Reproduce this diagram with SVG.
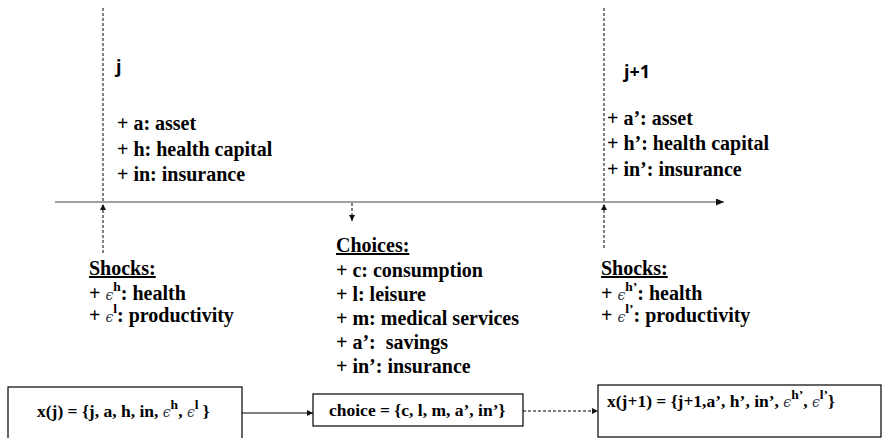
<svg xmlns="http://www.w3.org/2000/svg" width="887" height="438" viewBox="0 0 887 438">
<style>
  .t { font-family: "Liberation Serif", "DejaVu Serif", serif; font-weight: bold; font-size: 20px; fill: #000; }
  .bt { font-family: "Liberation Serif", "DejaVu Serif", serif; font-weight: bold; font-size: 17.5px; fill: #000; }
  .s { font-family: "Open Sans", "Liberation Sans", sans-serif; font-weight: bold; font-size: 18px; fill: #000; }
  .eps { font-family: "DejaVu Serif", serif; font-style: italic; font-weight: normal; font-size: 14px; fill: #34344a; }
  .sup { font-size: 13.5px; }
  .ul { text-decoration: underline; }
  .box { fill: #fff; stroke: #000; stroke-width: 1.2; }
  .dash { stroke: #000; stroke-width: 1; stroke-dasharray: 3 2; fill: none; }
  .solid { stroke: #000; stroke-width: 1; fill: none; }
  .axis { stroke: #808080; stroke-width: 1.6; fill: none; }
</style>
<defs>
  <marker id="ah" markerUnits="userSpaceOnUse" markerWidth="9" markerHeight="7" refX="8" refY="3.5" orient="auto">
    <path d="M0,0 L8,3.5 L0,7 z" fill="#111"/>
  </marker>
  <marker id="ahs" markerUnits="userSpaceOnUse" markerWidth="7" markerHeight="6" refX="6" refY="3" orient="auto">
    <path d="M0,0 L6,3 L0,6 z" fill="#111"/>
  </marker>
</defs>
<rect width="887" height="438" fill="#fff"/>

<g id="connectors">
  <line id="timeline" class="axis" x1="55" y1="202" x2="724" y2="202" marker-end="url(#ah)"/>
  <line class="dash" x1="103" y1="8" x2="103" y2="201"/>
  <line class="dash" x1="103" y1="253" x2="103" y2="204" marker-end="url(#ahs)"/>
  <line class="dash" x1="604" y1="8" x2="604" y2="201"/>
  <line class="dash" x1="604" y1="248" x2="604" y2="204" marker-end="url(#ahs)"/>
  <line class="dash" x1="352" y1="203" x2="352" y2="221" marker-end="url(#ahs)"/>
  <line class="solid" x1="242" y1="413" x2="313" y2="413" marker-end="url(#ahs)"/>
  <line class="dash" x1="523" y1="411" x2="598" y2="411" marker-end="url(#ahs)"/>
</g>

<g id="state-j">
  <text class="s" x="116" y="73">j</text>
  <text class="t" x="117" y="130">+ a: asset</text>
  <text class="t" x="117" y="155.5">+ h: health capital</text>
  <text class="t" x="117" y="181">+ in: insurance</text>
</g>

<g id="state-j1">
  <text class="s" x="624" y="78">j+1</text>
  <text class="t" x="607" y="124.5">+ a’: asset</text>
  <text class="t" x="607" y="150">+ h’: health capital</text>
  <text class="t" x="607" y="175.5">+ in’: insurance</text>
</g>

<g id="shocks-j">
  <text class="t ul" x="89" y="275">Shocks:</text>
  <text class="t" x="89" y="300">+ <tspan class="eps">ϵ</tspan><tspan class="sup" dy="-9">h</tspan><tspan dy="9">: health</tspan></text>
  <text class="t" x="89" y="322">+ <tspan class="eps">ϵ</tspan><tspan class="sup" dy="-9">l</tspan><tspan dy="9">: productivity</tspan></text>
</g>

<g id="choices">
  <text class="t ul" x="336" y="252">Choices:</text>
  <text class="t" x="336" y="277">+ c: consumption</text>
  <text class="t" x="336" y="301">+ l: leisure</text>
  <text class="t" x="336" y="325">+ m: medical services</text>
  <text class="t" x="336" y="349" xml:space="preserve">+ a’:  savings</text>
  <text class="t" x="336" y="373">+ in’: insurance</text>
</g>

<g id="shocks-j1">
  <text class="t ul" x="601" y="275">Shocks:</text>
  <text class="t" x="601" y="300">+ <tspan class="eps">ϵ</tspan><tspan class="sup" dy="-9">h’</tspan><tspan dy="9">: health</tspan></text>
  <text class="t" x="601" y="322">+ <tspan class="eps">ϵ</tspan><tspan class="sup" dy="-9">l’</tspan><tspan dy="9">: productivity</tspan></text>
</g>

<g id="box-xj">
  <rect class="box" x="8" y="387" width="234" height="56"/>
  <text class="bt" x="37" y="417">x(j) = {j, a, h, in, <tspan class="eps">ϵ</tspan><tspan class="sup" dy="-8">h</tspan><tspan dy="8">, </tspan><tspan class="eps">ϵ</tspan><tspan class="sup" dy="-8">l</tspan><tspan dy="8"> }</tspan></text>
</g>

<g id="box-choice">
  <rect class="box" x="313" y="394" width="210" height="32"/>
  <text class="bt" x="329" y="416">choice = {c, l, m, a’, in’}</text>
</g>

<g id="box-xj1">
  <rect class="box" x="598" y="385" width="283" height="52"/>
  <text class="bt" x="607" y="407">x(j+1) = {j+1,a’, h’, in’, <tspan class="eps">ϵ</tspan><tspan class="sup" dy="-8">h’</tspan><tspan dy="8">, </tspan><tspan class="eps">ϵ</tspan><tspan class="sup" dy="-8">l’</tspan><tspan dy="8">}</tspan></text>
</g>
</svg>
